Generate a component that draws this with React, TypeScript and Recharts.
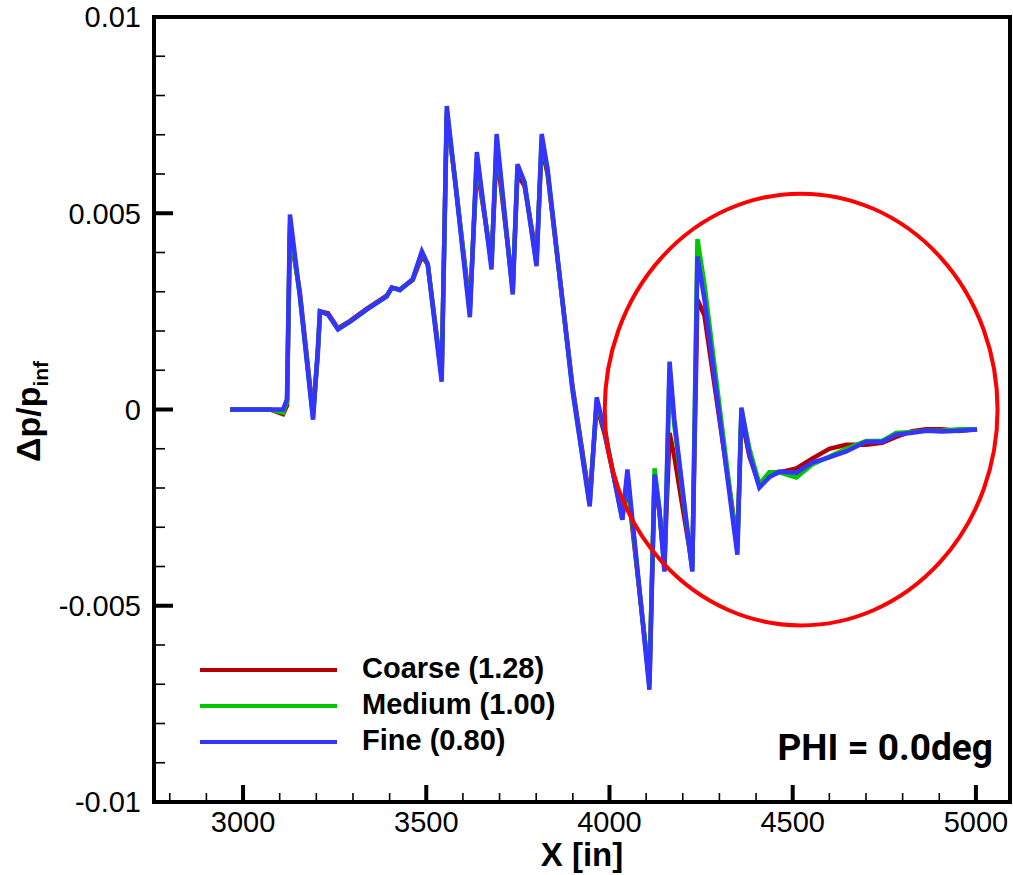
import React from 'react';
import { LineChart, Line, XAxis, YAxis, ReferenceArea, ReferenceDot, Legend } from 'recharts';

// ---- data ----
const xValues = [
  2965, 3074, 3109, 3120, 3128, 3155, 3191, 3204, 3210, 3232,
  3259, 3292, 3338, 3392, 3406, 3428, 3463, 3488, 3504, 3542,
  3556, 3578, 3619, 3638, 3678, 3692, 3736, 3749, 3768, 3801,
  3815, 3831, 3899, 3946, 3965, 3986, 4035, 4049, 4109, 4123,
  4136, 4150, 4164, 4177, 4226, 4240, 4259, 4349, 4360, 4382,
  4409, 4436, 4463, 4510, 4553, 4600, 4646, 4700, 4744, 4782,
  4826, 4864, 4907, 4954, 5003,
];
const fineValues = [
  0, 0, 0, 0.00026, 0.00497, 0.0029, -0.00026, 0.00153, 0.0025, 0.00242,
  0.00204, 0.00224, 0.00255, 0.00288, 0.00311, 0.00304, 0.00332, 0.00403, 0.0037, 0.00071,
  0.00773, 0.00587, 0.00235, 0.00656, 0.00357, 0.00702, 0.00293, 0.00625, 0.00579, 0.00365,
  0.00702, 0.00612, 0.00051, -0.00247, 0.00031, -0.00051, -0.00281, -0.00153, -0.00714, -0.00166,
  -0.00255, -0.00413, 0.00122, -0.00026, -0.00413, 0.0039, 0.00281, -0.0037, 0.00005, -0.00115,
  -0.00199, -0.00173, -0.00158, -0.00161, -0.00135, -0.00122, -0.00107, -0.00082, -0.00082, -0.00064,
  -0.00059, -0.00054, -0.00056, -0.00054, -0.00051,
];
const mediumValues = [
  0, 0, -0.00008, 0.0002, 0.0047, 0.0029, -0.0002, 0.0015, 0.0025, 0.00242,
  0.00205, 0.00224, 0.00255, 0.00288, 0.0031, 0.00305, 0.00332, 0.004, 0.0037, 0.0008,
  0.0076, 0.0059, 0.0025, 0.0064, 0.0037, 0.0069, 0.003, 0.0062, 0.0058, 0.0037,
  0.0069, 0.0061, 0.0005, -0.0024, 0.0002, -0.0005, -0.0028, -0.0017, -0.007, -0.0015,
  -0.0025, -0.0041, 0.001, -0.0004, -0.0041, 0.00434, 0.0032, -0.0036, 0, -0.001,
  -0.0019, -0.0016, -0.0016, -0.00173, -0.0014, -0.0012, -0.001, -0.0008, -0.0008, -0.0006,
  -0.00057, -0.00054, -0.00054, -0.0005, -0.0005,
];
const coarseValues = [
  0, 0, -0.00012, 0.0001, 0.0045, 0.003, -0.0001, 0.0014, 0.0025, 0.00245,
  0.00207, 0.00226, 0.00257, 0.0029, 0.0031, 0.00306, 0.0033, 0.0039, 0.0037, 0.0009,
  0.0075, 0.0059, 0.0026, 0.0062, 0.0038, 0.0066, 0.0031, 0.006, 0.0057, 0.0039,
  0.0067, 0.006, 0.0006, -0.0023, 0.0001, -0.0006, -0.0027, -0.0019, -0.0069, -0.0018,
  -0.0026, -0.0039, -0.0006, -0.0012, -0.004, 0.0028, 0.0024, -0.0034, -0.0002, -0.0012,
  -0.0019, -0.0017, -0.0016, -0.0015, -0.00125, -0.001, -0.0009, -0.0009, -0.00085, -0.0007,
  -0.00055, -0.0005, -0.0005, -0.00055, -0.0005,
];

const seriesNames = ['Coarse (1.28)', 'Medium (1.00)', 'Fine (0.80)'];
const seriesColors = ['#B40000', '#00C800', '#3434FF'];

const xDomain = [2757, 5093];
const yDomain = [-0.01, 0.01];
const xMajorTicks = [3000, 3500, 4000, 4500, 5000];
const xMinorTicks = [2800, 2900, 3100, 3200, 3300, 3400, 3600, 3700, 3800, 3900, 4100, 4200, 4300, 4400, 4600, 4700, 4800, 4900];
const yMajorTicks = [-0.01, -0.005, 0, 0.005, 0.01];
const yMajorLabels = ['-0.01', '-0.005', '0', '0.005', '0.01'];
const yMinorTicks = [-0.009, -0.008, -0.007, -0.006, -0.004, -0.003, -0.002, -0.001, 0.001, 0.002, 0.003, 0.004, 0.006, 0.007, 0.008, 0.009];

const ellipseCenter = [4523, 0];
const ellipseRadius = [536, 0.0055];

const phiLabel = 'PHI = 0.0deg';

// ---- layout ----
const W = 1013;
const H = 875;
const MARGIN = { top: 17, right: 3, bottom: 0, left: 0 };
const Y_AXIS_W = 154;
const X_AXIS_H = 73;
const PLOT_W = W - MARGIN.left - MARGIN.right - Y_AXIS_W;
const PLOT_H = H - MARGIN.top - MARGIN.bottom - X_AXIS_H;
const FONT = "'Liberation Sans', Arial, Helvetica, sans-serif";

const data = xValues.map((x, i) => ({
  x,
  coarse: coarseValues[i],
  medium: mediumValues[i],
  fine: fineValues[i],
}));

const XTick = (props: any) => {
  const { x, y, payload } = props;
  const v = payload.value;
  const major = xMajorTicks.includes(v);
  return (
    <g>
      <line x1={x} x2={x} y1={y} y2={y - (major ? 17 : 9)} stroke="#000" strokeWidth={major ? 4 : 1.6} />
      {major && (
        <text x={x} y={y + 30} textAnchor="middle" fontSize={29} fontFamily={FONT} fill="#000">
          {v}
        </text>
      )}
    </g>
  );
};

const YTick = (props: any) => {
  const { x, y, payload } = props;
  const v = payload.value;
  const mi = yMajorTicks.findIndex((t) => Math.abs(t - v) < 1e-9);
  const major = mi >= 0;
  return (
    <g>
      <line x1={x} x2={x + (major ? 19 : 11)} y1={y} y2={y} stroke="#000" strokeWidth={major ? 4 : 1.6} />
      {major && (
        <text x={x - 13} y={y} dy="0.36em" textAnchor="end" fontSize={29} fontFamily={FONT} fill="#000">
          {yMajorLabels[mi]}
        </text>
      )}
    </g>
  );
};

const XTitle = (props: any) => {
  const vb = props.viewBox || { x: 154, y: 802, width: PLOT_W, height: X_AXIS_H };
  return (
    <text x={vb.x + vb.width / 2} y={vb.y + 64} textAnchor="middle" fontSize={33} fontWeight="bold" fontFamily={FONT} fill="#000">
      X [in]
    </text>
  );
};

const YTitle = (props: any) => {
  const vb = props.viewBox || { x: 0, y: 17, width: Y_AXIS_W, height: PLOT_H };
  const tx = vb.x + 40;
  const ty = vb.y + 445;
  return (
    <text transform={`translate(${tx}, ${ty}) rotate(-90)`} x={0} y={0} textAnchor="start" fontSize={34} fontWeight="bold" fontFamily={FONT} fill="#000">
      Δp/p
      <tspan fontSize={21} dy={8}>inf</tspan>
    </text>
  );
};

const PhiLabel = (props: any) => {
  const vb = props.viewBox || { x: 154, y: 17, width: PLOT_W, height: PLOT_H };
  return (
    <text x={vb.x + vb.width - 17} y={vb.y + 743} textAnchor="end" fontSize={37} fontWeight="bold" fontFamily="Roboto, 'Liberation Sans', Arial, sans-serif" fill="#000">
      {phiLabel}
    </text>
  );
};

const LegendContent = (props: any) => {
  const payload = [...(props.payload || [])].sort(
    (a: any, b: any) => seriesNames.indexOf(a.value) - seriesNames.indexOf(b.value)
  );
  return (
    <svg width={420} height={130} style={{ display: 'block' }}>
      {payload.map((entry: any, i: number) => (
        <g key={i}>
          <line x1={10} x2={147} y1={30 + i * 36} y2={30 + i * 36} stroke={entry.color} strokeWidth={4} />
          <text x={172} y={38 + i * 36} fontSize={29} fontWeight="bold" fontFamily={FONT} fill="#000">
            {entry.value}
          </text>
        </g>
      ))}
    </svg>
  );
};

export default function App() {
  const pxPerX = PLOT_W / (xDomain[1] - xDomain[0]);
  const pxPerY = PLOT_H / (yDomain[1] - yDomain[0]);
  const rx = ellipseRadius[0] * pxPerX;
  const ry = ellipseRadius[1] * pxPerY;
  return (
    <div style={{ position: 'absolute', left: 0, top: 0, width: W, height: H, background: '#fff' }}>
      <LineChart width={W} height={H} data={data} margin={MARGIN}>
        <XAxis
          type="number"
          dataKey="x"
          domain={xDomain}
          ticks={[...xMinorTicks, ...xMajorTicks]}
          interval={0}
          allowDataOverflow
          height={X_AXIS_H}
          axisLine={false}
          tickLine={false}
          tickSize={0}
          tickMargin={0}
          tick={<XTick />}
          label={{ content: <XTitle /> }}
        />
        <YAxis
          type="number"
          domain={yDomain}
          ticks={[...yMinorTicks, ...yMajorTicks]}
          interval={0}
          allowDataOverflow
          width={Y_AXIS_W}
          axisLine={false}
          tickLine={false}
          tickSize={0}
          tickMargin={0}
          tick={<YTick />}
          label={{ content: <YTitle /> }}
        />
        <ReferenceArea
          x1={xDomain[0]}
          x2={xDomain[1]}
          y1={yDomain[0]}
          y2={yDomain[1]}
          fill="none"
          fillOpacity={0}
          stroke="#000"
          strokeWidth={4}
          strokeOpacity={1}
          ifOverflow="visible"
          label={{ content: <PhiLabel /> }}
        />
        <Legend
          layout="horizontal"
          verticalAlign="middle"
          align="center"
          itemSorter={null as any}
          content={<LegendContent />}
          wrapperStyle={{ left: 190, top: 640, width: 420, height: 130 }}
        />
        <Line type="linear" dataKey="coarse" name={seriesNames[0]} stroke={seriesColors[0]} strokeWidth={4.5} dot={false} isAnimationActive={false} />
        <Line type="linear" dataKey="medium" name={seriesNames[1]} stroke={seriesColors[1]} strokeWidth={4.5} dot={false} isAnimationActive={false} />
        <Line type="linear" dataKey="fine" name={seriesNames[2]} stroke={seriesColors[2]} strokeWidth={4.5} dot={false} isAnimationActive={false} />
        <ReferenceDot
          x={ellipseCenter[0]}
          y={ellipseCenter[1]}
          r={rx}
          ifOverflow="visible"
          shape={(p: any) => (
            <ellipse cx={p.cx} cy={p.cy} rx={rx} ry={ry} fill="none" stroke="#FF0000" strokeWidth={4} />
          )}
        />
      </LineChart>
    </div>
  );
}
